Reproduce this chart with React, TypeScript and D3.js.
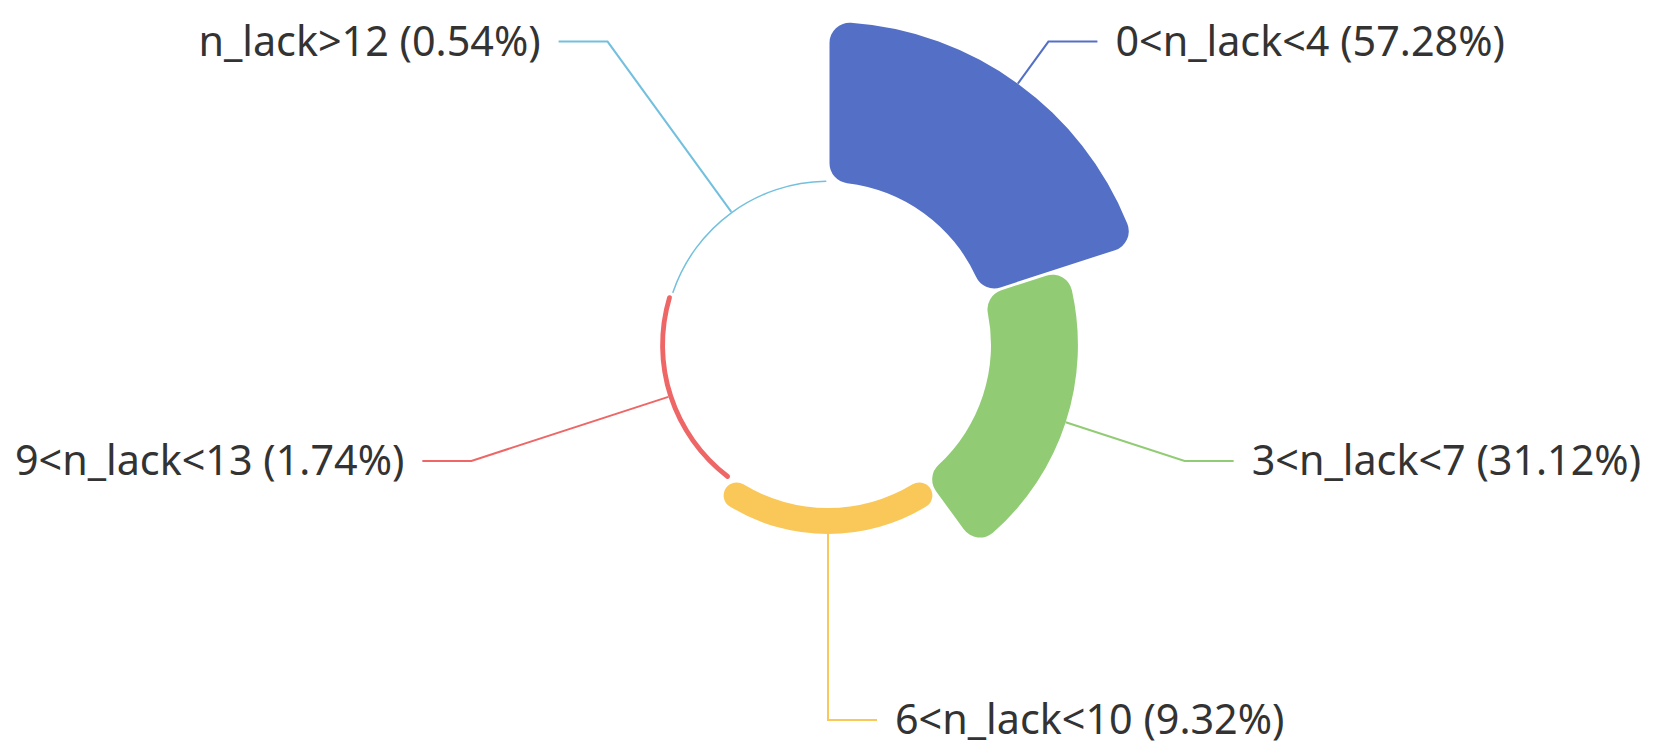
import React from "react";
import * as d3 from "d3";

const categories = ["0<n_lack<4", "3<n_lack<7", "6<n_lack<10", "9<n_lack<13", "n_lack>12"];
const percents = [57.28, 31.12, 9.32, 1.74, 0.54];
const colors = ["#5470c6", "#91cc75", "#fac858", "#ee6666", "#73c0de"];

const W = 1653;
const H = 754;
const CX = 828;
const CY = 345;
const R0 = 163;
const R1 = 323;
const ELBOW = 375;
const HLEN = 49;
const GAP = 18;

export default function App() {
  const data = categories.map((c, i) => ({ name: c, value: percents[i], color: colors[i] }));
  const rScale = d3.scaleLinear().domain([0, d3.max(percents) as number]).range([R0, R1]);
  const pie = d3
    .pie<any>()
    .sort(null)
    .value(() => 1)
    .padAngle(0.015);
  const arcs = pie(data);
  const arcGen = d3
    .arc<any>()
    .innerRadius(R0)
    .outerRadius((d: any) => rScale(d.data.value))
    .cornerRadius(20)
    .padRadius(200);

  return (
    <svg
      width={W}
      height={H}
      style={{ position: "absolute", left: 0, top: 0, background: "#fff" }}
    >
      <g transform={`translate(${CX},${CY})`}>
        {arcs.map((a, i) => (
          <path key={"s" + i} d={arcGen(a) as string} fill={a.data.color} />
        ))}
        {arcs.map((a, i) => {
          const mid = (a.startAngle + a.endAngle) / 2;
          const dx = Math.sin(mid);
          const dy = -Math.cos(mid);
          const r = rScale(a.data.value);
          const p1 = [dx * r, dy * r];
          const p2 = [dx * ELBOW, dy * ELBOW];
          const right = dx >= -1e-6;
          const p3 = [p2[0] + (right ? HLEN : -HLEN), p2[1]];
          const tx = p3[0] + (right ? GAP : -GAP);
          return (
            <g key={"l" + i}>
              <polyline
                points={[p1, p2, p3].map((p) => p.join(",")).join(" ")}
                fill="none"
                stroke={a.data.color}
                strokeWidth={2}
              />
              <text
                x={tx}
                y={p3[1]}
                dy="0.35em"
                textAnchor={right ? "start" : "end"}
                fontFamily="'Noto Sans', sans-serif"
                fontSize={41.3}
                fill="#333"
              >
                {`${a.data.name} (${a.data.value.toFixed(2)}%)`}
              </text>
            </g>
          );
        })}
      </g>
    </svg>
  );
}
